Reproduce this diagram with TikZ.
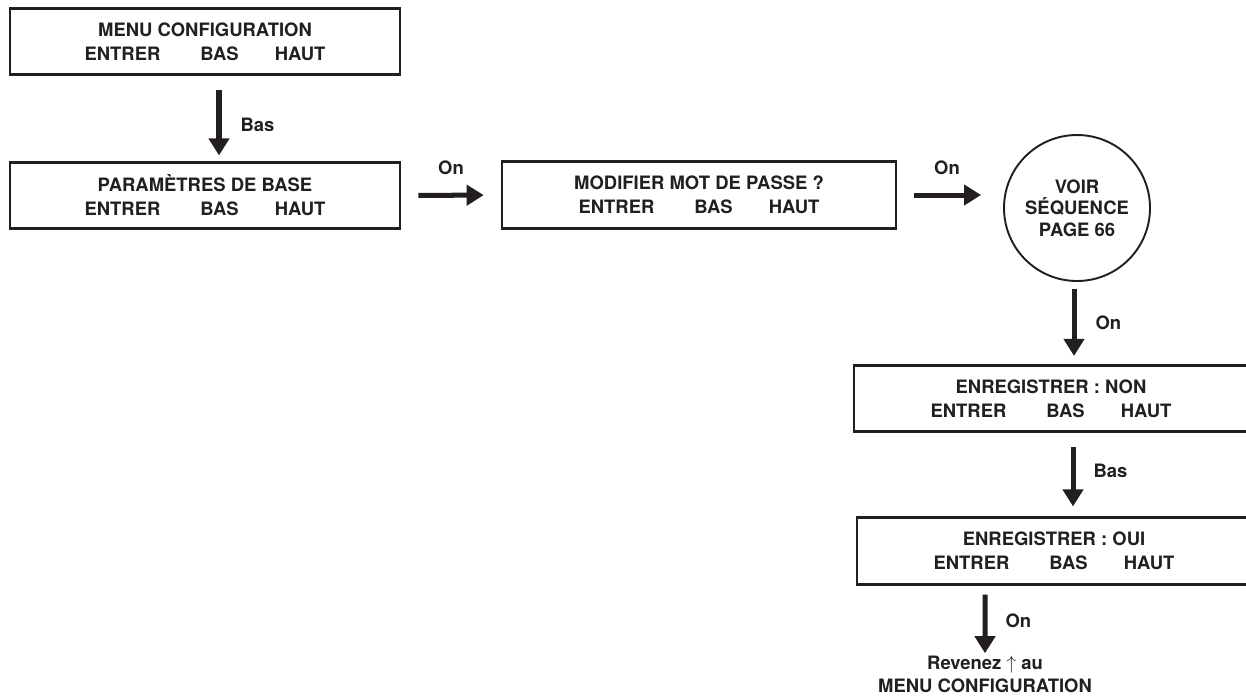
\documentclass[tikz,border=0pt]{standalone}
\usepackage{fontspec}
\setmainfont{TeX Gyre Heros}
\usetikzlibrary{arrows.meta,positioning}
\definecolor{encre}{HTML}{231F20}
\newcommand{\touches}{ENTRER\hspace{0.8cm}BAS\hspace{0.72cm}HAUT}

\begin{document}
\begin{tikzpicture}[
    ecran/.style={draw=encre, line width=1.5pt, minimum height=1.33cm, align=center,
        inner sep=0pt, text=encre, font=\fontsize{10.5}{13.6}\selectfont\bfseries},
    fleche/.style={draw=encre, line width=2.85pt, -{Triangle[width=11.4pt,length=9.7pt]}},
    etiq/.style={inner sep=0pt, text=encre, font=\fontsize{10.5}{12}\selectfont\bfseries}]
    \useasboundingbox (0,0) rectangle (24.92,-13.96);
    % screens of the menu
    \node[ecran, minimum width=7.8cm] (menu) at (4.10,-0.83) {MENU CONFIGURATION\\ \touches};
    \node[ecran, minimum width=7.8cm] (base) at (4.10,-3.91) {PARAMÈTRES DE BASE\\ \touches};
    \node[ecran, minimum width=7.88cm] (motpasse) at (13.98,-3.90) {MODIFIER MOT DE PASSE ?\\ \touches};
    \node[draw=encre, line width=1.1pt, circle, minimum size=2.92cm, align=center, inner sep=0pt,
        text=encre, font=\fontsize{10.5}{12.2}\selectfont\bfseries] (voir) at (21.54,-4.16) {VOIR\\SÉQUENCE\\PAGE 66};
    \node[ecran, minimum width=7.88cm] (enregnon) at (21.02,-7.97) {ENREGISTRER : NON\\ \touches};
    \node[ecran, minimum width=7.88cm] (enregoui) at (21.08,-11.02) {ENREGISTRER : OUI\\ \touches};
    \node[etiq, align=center, font=\fontsize{10.5}{13.2}\selectfont\bfseries] (retour) at (19.70,-13.48)
        {Revenez $\uparrow$ au\\MENU CONFIGURATION};
    % keys pressed
    \draw[fleche, shorten <=0.28cm, shorten >=0.11cm] ([xshift=0.28cm]menu.south) -- ([xshift=0.28cm]base.north)
        node[etiq, pos=0.57, right=0.38cm] {Bas};
    \draw[fleche, shorten <=0.34cm, shorten >=0.34cm] (base.east) -- (motpasse.west)
        node[etiq, midway, above=0.36cm] {On};
    \draw[fleche, shorten <=0.34cm, shorten >=0.44cm] (motpasse.east) -- (motpasse.east -| voir.west)
        node[etiq, pos=0.47, above=0.36cm] {On};
    \draw[fleche, shorten <=0.14cm, shorten >=0.16cm] ([xshift=-0.06cm]voir.south) -- ([xshift=-0.06cm]voir.south |- enregnon.north)
        node[etiq, midway, right=0.38cm] {On};
    \draw[fleche, shorten <=0.28cm, shorten >=0.2cm] ([xshift=0.44cm]enregnon.south) -- ([xshift=0.44cm]enregnon.south |- enregoui.north)
        node[etiq, pos=0.45, right=0.36cm] {Bas};
    \draw[fleche, shorten <=0.18cm, shorten >=0.04cm] ([xshift=-1.38cm]enregoui.south) -- (retour.north)
        node[etiq, pos=0.5, right=0.36cm] {On};
\end{tikzpicture}
\end{document}
